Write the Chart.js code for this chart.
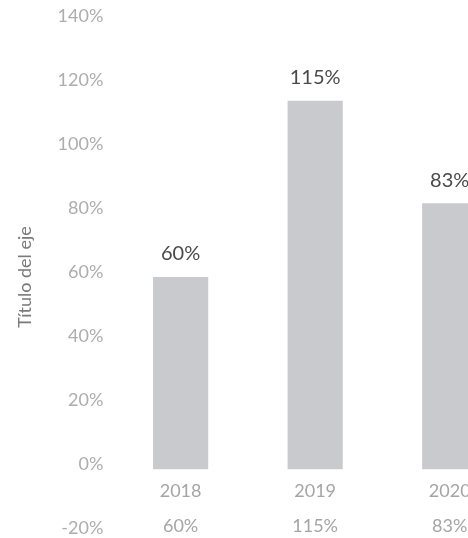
<!DOCTYPE html>
<html>
<head>
<meta charset="utf-8">
<script src="https://cdn.jsdelivr.net/npm/chart.js@4"></script>
<style>
  html, body { margin: 0; padding: 0; background: #fff; overflow: hidden; }
  body { width: 468px; height: 538px; }
  #wrap { width: 520px; height: 554px; }
</style>
</head>
<body>
<div id="wrap"><canvas id="chart" width="520" height="554"></canvas></div>
<script>
// Data
const years = ['2018', '2019', '2020'];
const values = [60, 115, 83];
const yTicks = [-20, 0, 20, 40, 60, 80, 100, 120, 140];

const FONT = 'Lato, "Open Sans", sans-serif';

// Value label drawn above each bar
const barLabels = {
    id: 'barLabels',
    afterDatasetsDraw(chart) {
        const ctx = chart.ctx;
        const meta = chart.getDatasetMeta(0);
        ctx.save();
        ctx.font = '20px ' + FONT;
        ctx.fillStyle = '#4a4a4a';
        ctx.textAlign = 'center';
        ctx.textBaseline = 'bottom';
        meta.data.forEach((bar, i) => {
            ctx.fillText(values[i] + '%', bar.x, bar.y - 13);
        });
        ctx.restore();
    }
};

new Chart(document.getElementById('chart'), {
    type: 'bar',
    data: {
        labels: years.map((y, i) => [y, values[i] + '%']),
        datasets: [{
            data: values,
            backgroundColor: '#c8cacd',
            borderWidth: 0,
            categoryPercentage: 1,
            barPercentage: 0.41
        }]
    },
    options: {
        responsive: false,
        animation: false,
        layout: { padding: { top: 0, right: 3, bottom: 0, left: 14 } },
        plugins: {
            legend: { display: false },
            tooltip: { enabled: false }
        },
        scales: {
            x: {
                position: { y: 0 },
                grid: { display: false, drawTicks: false },
                border: { display: false },
                ticks: {
                    color: '#a5a5a5',
                    font: { family: FONT, size: 18, lineHeight: 1.95 },
                    padding: 4
                }
            },
            y: {
                min: yTicks[0],
                max: yTicks[yTicks.length - 1],
                afterBuildTicks: scale => { scale.ticks = yTicks.map(v => ({ value: v })); },
                grid: { display: false, drawTicks: false },
                border: { display: false },
                ticks: {
                    color: '#adadad',
                    font: { family: FONT, size: 18 },
                    padding: 10,
                    labelOffset: -5,
                    callback: v => v + '%'
                },
                title: {
                    display: true,
                    text: 'Título del eje',
                    color: '#7a7a7a',
                    font: { family: FONT, size: 18 },
                    padding: { top: 0, bottom: 12 }
                }
            }
        }
    },
    plugins: [barLabels]
});
</script>
</body>
</html>
